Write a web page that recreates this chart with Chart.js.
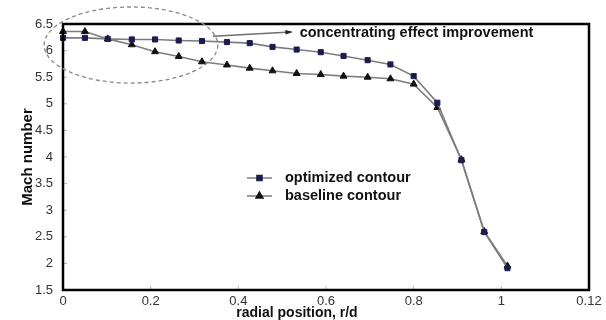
<!DOCTYPE html>
<html>
<head>
<meta charset="utf-8">
<script src="https://cdn.jsdelivr.net/npm/chart.js@4"></script>
<style>
    html, body { margin: 0; padding: 0; background: #fff; }
    #wrap { width: 606px; height: 320px; }
</style>
</head>
<body>
<div id="wrap"><canvas id="chart"></canvas></div>
<script>
const radialPos = [0, 0.05, 0.102, 0.157, 0.21, 0.264, 0.317, 0.374, 0.426, 0.478, 0.533, 0.588, 0.64, 0.695, 0.747, 0.8, 0.854, 0.909, 0.961, 1.014]
const machOptimized = [6.24, 6.24, 6.22, 6.21, 6.21, 6.19, 6.18, 6.16, 6.14, 6.07, 6.02, 5.97, 5.90, 5.82, 5.74, 5.52, 5.02, 3.94, 2.59, 1.91]
const machBaseline = [6.36, 6.36, 6.22, 6.11, 5.98, 5.89, 5.79, 5.73, 5.67, 5.62, 5.57, 5.55, 5.52, 5.50, 5.47, 5.37, 4.93, 3.95, 2.60, 1.95]
const xTickLabels = ['0', '0.2', '0.4', '0.6', '0.8', '1', '0.12']
const yTickLabels = ['1.5', '2', '2.5', '3', '3.5', '4', '4.5', '5', '5.5', '6', '6.5']
const seriesNames = ['optimized contour', 'baseline contour']
const xTitle = 'radial position, r/d'
const yTitle = 'Mach number'
const annotationText = 'concentrating effect improvement'

const FONT = '"Liberation Sans", Arial, sans-serif'


// frame, inner ticks, legend, x title and the dashed ellipse annotation
const decorations = {
    id: 'decorations',
    afterDraw(chart) {
        const { ctx, chartArea: area, scales: { x, y } } = chart
        ctx.save()

        // small inner tick marks
        ctx.strokeStyle = '#b5b5b5'
        ctx.lineWidth = 1
        x.ticks.forEach(t => {
            const px = x.getPixelForValue(t.value)
            ctx.beginPath()
            ctx.moveTo(px, area.bottom)
            ctx.lineTo(px, area.bottom - 4)
            ctx.stroke()
        })
        y.ticks.forEach(t => {
            const py = y.getPixelForValue(t.value)
            ctx.beginPath()
            ctx.moveTo(area.left, py)
            ctx.lineTo(area.left + 4, py)
            ctx.stroke()
        })

        // box
        ctx.strokeStyle = '#000'
        ctx.lineWidth = 2.5
        ctx.strokeRect(area.left, area.top, area.width, area.height)

        // dashed ellipse round the start of the curves
        const cx = x.getPixelForValue(0.155)
        const cy = y.getPixelForValue(6.105)
        const rx = x.getPixelForValue(0.353) - cx
        const ry = y.getPixelForValue(5.39) - cy
        ctx.strokeStyle = '#8a8a8a'
        ctx.lineWidth = 1.3
        ctx.setLineDash([4, 3])
        ctx.beginPath()
        ctx.ellipse(cx, cy, rx, ry, 0, 0, Math.PI * 2)
        ctx.stroke()
        ctx.setLineDash([])

        // arrow to the annotation
        const ax0 = x.getPixelForValue(0.342), ay0 = y.getPixelForValue(6.27)
        const ax1 = x.getPixelForValue(0.52), ay1 = y.getPixelForValue(6.35)
        ctx.strokeStyle = '#6e6e6e'
        ctx.lineWidth = 1.5
        ctx.beginPath()
        ctx.moveTo(ax0, ay0)
        ctx.lineTo(ax1, ay1)
        ctx.stroke()
        const ang = Math.atan2(ay1 - ay0, ax1 - ax0)
        ctx.fillStyle = '#222'
        ctx.beginPath()
        ctx.moveTo(ax1 + 2, ay1)
        ctx.lineTo(ax1 - 6 * Math.cos(ang - 0.4), ay1 - 6 * Math.sin(ang - 0.4))
        ctx.lineTo(ax1 - 6 * Math.cos(ang + 0.4), ay1 - 6 * Math.sin(ang + 0.4))
        ctx.closePath()
        ctx.fill()

        ctx.fillStyle = '#111'
        ctx.font = 'bold 14.5px ' + FONT
        ctx.textAlign = 'left'
        ctx.textBaseline = 'middle'
        ctx.fillText(annotationText, x.getPixelForValue(0.54), y.getPixelForValue(6.33))

        // legend
        const lx = area.left + 184
        const ly = area.top + 154
        chart.data.datasets.forEach((ds, i) => {
            const rowY = ly + i * 18
            ctx.strokeStyle = ds.borderColor
            ctx.lineWidth = 1.5
            ctx.beginPath()
            ctx.moveTo(lx, rowY)
            ctx.lineTo(lx + 25, rowY)
            ctx.stroke()
            ctx.fillStyle = ds.pointBackgroundColor
            ctx.strokeStyle = ds.pointBorderColor
            Chart.helpers.drawPoint(ctx, { pointStyle: ds.pointStyle, radius: ds.pointRadius, rotation: 0, borderWidth: 1 }, lx + 12.5, rowY)
            ctx.fillStyle = '#111'
            ctx.font = 'bold 14.5px ' + FONT
            ctx.textBaseline = 'middle'
            ctx.fillText(seriesNames[i], lx + 38, rowY)
        })

        // x axis title
        ctx.font = 'bold 14px ' + FONT
        ctx.textAlign = 'center'
        ctx.fillText(xTitle, 297, 313)

        ctx.restore()
    }
}


function printMachChart() {

    const data = {
        datasets: [
            {
                label: seriesNames[0],
                data: radialPos.map((r, i) => ({ x: r, y: machOptimized[i] })),
                borderColor: '#7d7d7d',
                borderWidth: 1.6,
                pointStyle: 'rect',
                pointRadius: 3.6,
                pointBackgroundColor: '#1b1b55',
                pointBorderColor: '#1b1b55',
                pointBorderWidth: 1,
                clip: false
            },
            {
                label: seriesNames[1],
                data: radialPos.map((r, i) => ({ x: r, y: machBaseline[i] })),
                borderColor: '#7d7d7d',
                borderWidth: 1.6,
                pointStyle: 'triangle',
                pointRadius: 4,
                pointBackgroundColor: '#111',
                pointBorderColor: '#111',
                pointBorderWidth: 1,
                clip: false
            }
        ]
    }

    const options = {
        responsive: true,
        maintainAspectRatio: false,
        animation: false,
        layout: {
            padding: { left: 0, right: 17, top: 24, bottom: 0 }
        },
        plugins: {
            legend: { display: false },
            tooltip: { enabled: false }
        },
        elements: {
            line: { tension: 0 }
        },
        scales: {
            x: {
                type: 'linear',
                min: 0,
                max: 1.2,
                grid: { display: false },
                border: { display: false },
                afterFit: scale => { scale.height = 30 },
                ticks: {
                    stepSize: 0.2,
                    autoSkip: false,
                    maxRotation: 0,
                    padding: -4,
                    color: '#333',
                    font: { family: FONT, size: 13 },
                    callback: (value, index) => xTickLabels[index]
                }
            },
            y: {
                min: 1.5,
                max: 6.5,
                grid: { display: false },
                border: { display: false },
                afterFit: scale => { scale.width = 63 },
                title: {
                    display: true,
                    text: yTitle,
                    color: '#111',
                    padding: { top: 19, bottom: 0 },
                    font: { family: FONT, size: 15, weight: 'bold' }
                },
                ticks: {
                    stepSize: 0.5,
                    autoSkip: false,
                    padding: 2,
                    color: '#333',
                    font: { family: FONT, size: 13 },
                    callback: (value, index) => yTickLabels[index]
                }
            }
        }
    }

    new Chart('chart', { type: 'line', data, options, plugins: [decorations] })
}

printMachChart()
</script>
</body>
</html>
